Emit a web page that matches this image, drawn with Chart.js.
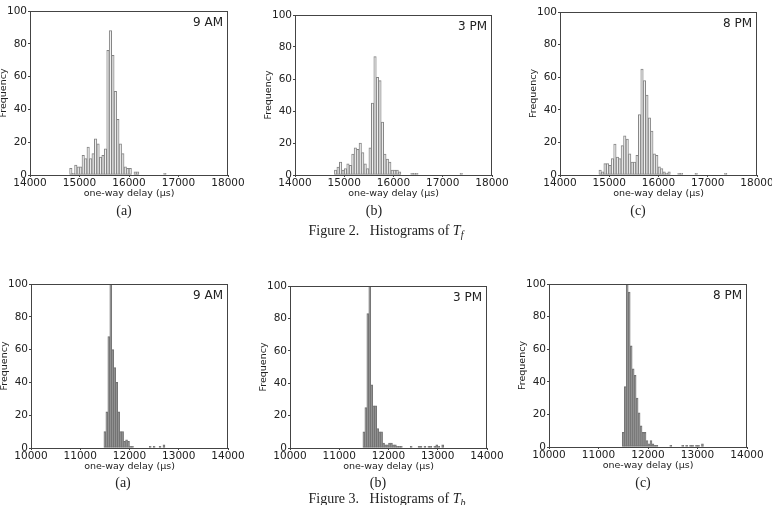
<!DOCTYPE html>
<html>
<head>
<meta charset="utf-8">
<script src="https://cdn.jsdelivr.net/npm/chart.js@4.4.1/dist/chart.umd.min.js"></script>
<style>
  html, body { margin: 0; padding: 0; background: #fff; }
  body { width: 772px; height: 505px; position: relative; overflow: hidden; }
  canvas { position: absolute; }
  .cap {
    position: absolute; transform: translate(-50%, -50%);
    font-family: "Liberation Serif", "Times New Roman", serif;
    font-size: 14px; line-height: 1; color: #222; white-space: nowrap;
  }
  .cap sub { font-size: 10px; }
</style>
</head>
<body>
<script>
const delayLabel = "one-way delay (µs)";
const freqLabel = "Frequency";
const freqTicks = [0, 20, 40, 60, 80, 100];
const fwdTicks = [14000, 15000, 16000, 17000, 18000];
const bwdTicks = [10000, 11000, 12000, 13000, 14000];
const timeLabels = ["9 AM", "3 PM", "8 PM"];
const subLabels = ["(a)", "(b)", "(c)"];
const figCaptions = ["Figure 2.&nbsp;&nbsp;&nbsp;Histograms of <i>T</i><sub><i>f</i></sub>",
                     "Figure 3.&nbsp;&nbsp;&nbsp;Histograms of <i>T</i><sub><i>b</i></sub>"];

// forward delay T_f, 50 us bins (counts per bin, first bin start)
const fwdBin = 50;
const fwd9amStart = 14800;
const fwd9am = [4, 1, 6, 5, 5, 12, 10, 17, 10, 13, 22, 19, 11, 12, 16, 76, 88, 73, 51, 34,
                19, 13, 5, 4, 4, 0, 2, 2, 0, 0, 0, 0, 0, 0, 0, 0, 0, 0, 1];
const fwd3pmStart = 14800;
const fwd3pm = [3, 5, 8, 3, 4, 7, 6, 13, 17, 16, 20, 14, 7, 4, 17, 45, 74, 61, 59, 33,
                13, 10, 8, 3, 3, 3, 2, 0, 0, 0, 0, 1, 1, 1, 0, 0, 0, 0, 0, 0,
                0, 0, 0, 0, 0, 0, 0, 0, 0, 0, 0, 1];
const fwd8pmStart = 14790;
const fwd8pm = [3, 2, 7, 7, 6, 10, 19, 11, 10, 18, 24, 22, 13, 8, 8, 12, 37, 65, 58, 49,
                35, 27, 13, 12, 5, 4, 2, 1, 2, 0, 0, 0, 1, 1, 0, 0, 0, 0, 0, 1,
                0, 0, 0, 0, 0, 0, 0, 0, 0, 0, 0, 1];

// backward delay T_b, 40 us bins
const bwdBin = 40;
const bwd9amStart = 11480;
const bwd9am = [10, 22, 68, 120, 60, 49, 40, 22, 10, 10, 4, 5, 4, 1, 1, 0, 0, 0, 0, 0,
                0, 0, 0, 1, 0, 1, 0, 0, 1, 0, 2];
const bwd3pmStart = 11480;
const bwd3pm = [10, 25, 83, 120, 39, 26, 26, 12, 10, 10, 3, 2, 2, 3, 3, 2, 2, 1, 1, 1,
                0, 0, 0, 0, 1, 0, 0, 0, 1, 1, 0, 1, 0, 1, 1, 0, 1, 2, 1, 0, 2];
const bwd8pmStart = 11480;
const bwd8pm = [9, 37, 120, 95, 62, 48, 44, 30, 21, 13, 9, 9, 4, 2, 4, 2, 1, 1, 0, 0,
                0, 0, 0, 0, 1, 0, 0, 0, 0, 0, 1, 0, 1, 0, 1, 1, 0, 1, 1, 0, 2];

const lightBars = { backgroundColor: "#f0f0f0", borderColor: "#858585", borderWidth: 1 };
const darkBars = { backgroundColor: "rgba(140,140,140,0.8)", borderColor: "#707070", borderWidth: 0.8 };

const panels = [
  { plot: [30, 11, 228, 175], ticks: fwdTicks, start: fwd9amStart, bin: fwdBin, counts: fwd9am, label: 0, bars: lightBars },
  { plot: [295, 15, 492, 175], ticks: fwdTicks, start: fwd3pmStart, bin: fwdBin, counts: fwd3pm, label: 1, bars: lightBars },
  { plot: [560, 12, 757, 175], ticks: fwdTicks, start: fwd8pmStart, bin: fwdBin, counts: fwd8pm, label: 2, bars: lightBars },
  { plot: [31, 284, 228, 448], ticks: bwdTicks, start: bwd9amStart, bin: bwdBin, counts: bwd9am, label: 0, bars: darkBars },
  { plot: [290, 286, 487, 448], ticks: bwdTicks, start: bwd3pmStart, bin: bwdBin, counts: bwd3pm, label: 1, bars: darkBars },
  { plot: [549, 284, 747, 447], ticks: bwdTicks, start: bwd8pmStart, bin: bwdBin, counts: bwd8pm, label: 2, bars: darkBars }
];

const subPos = [[124, 211], [374, 211], [638, 211], [123, 483], [378, 483], [643, 483]];
const figPos = [[386, 232], [387, 500]];

const frame = {
  id: "frame",
  afterDraw(chart, args, opts) {
    const a = chart.chartArea, ctx = chart.ctx;
    ctx.save();
    ctx.strokeStyle = "#444";
    ctx.lineWidth = 1;
    ctx.strokeRect(a.left + 0.5, a.top + 0.5, a.right - a.left - 1, a.bottom - a.top);
    ctx.fillStyle = "#222";
    ctx.font = '12px "DejaVu Sans"';
    ctx.textAlign = "right";
    ctx.textBaseline = "middle";
    ctx.fillText(opts.text, a.right - 5, a.top + 12);
    ctx.restore();
  }
};

const tickFont = { family: "DejaVu Sans", size: 10.5 };
const titleFont = { family: "DejaVu Sans", size: 9.5 };

panels.forEach(p => {
  const [l, t, r, b] = p.plot;
  const canvas = document.createElement("canvas");
  canvas.width = r - l + 60;
  canvas.height = b - t + 12 + 30;
  canvas.style.left = (l - 40) + "px";
  canvas.style.top = (t - 12) + "px";
  document.body.appendChild(canvas);

  const points = p.counts
    .map((c, i) => ({ x: p.start + (i + 0.5) * p.bin, y: c }))
    .filter(d => d.y > 0);

  new Chart(canvas.getContext("2d"), {
    type: "bar",
    data: {
      datasets: [{
        data: points,
        backgroundColor: p.bars.backgroundColor,
        borderColor: p.bars.borderColor,
        borderWidth: p.bars.borderWidth,
        borderSkipped: false,
        barPercentage: 1,
        categoryPercentage: 1,
        clip: 0
      }]
    },
    options: {
      responsive: false,
      animation: false,
      layout: { padding: { left: 0, top: 12, right: 20, bottom: 0 } },
      plugins: {
        legend: { display: false },
        tooltip: { enabled: false },
        frame: { text: timeLabels[p.label] }
      },
      scales: {
        x: {
          type: "linear",
          min: p.ticks[0],
          max: p.ticks[p.ticks.length - 1],
          offset: false,
          afterBuildTicks: s => { s.ticks = p.ticks.map(v => ({ value: v })); },
          afterFit: s => { s.height = 30; },
          ticks: { font: tickFont, color: "#222", padding: 0, maxRotation: 0, autoSkip: false, callback: v => String(v) },
          grid: { display: true, offset: false, drawOnChartArea: false, drawTicks: true, tickLength: 2, color: "#444" },
          border: { display: false },
          title: { display: true, text: delayLabel, font: titleFont, color: "#222", padding: { top: 0, bottom: 5.5 } }
        },
        y: {
          min: 0,
          max: 100,
          afterBuildTicks: s => { s.ticks = freqTicks.map(v => ({ value: v })); },
          afterFit: s => { s.width = 40; },
          ticks: { font: tickFont, color: "#222", padding: 1, callback: v => String(v) },
          grid: { display: true, drawOnChartArea: false, drawTicks: true, tickLength: 2, color: "#444" },
          border: { display: false },
          title: { display: true, text: freqLabel, font: titleFont, color: "#222", padding: { top: 7.5, bottom: 0 } }
        }
      }
    },
    plugins: [frame]
  });
});

subPos.forEach((pos, i) => {
  const d = document.createElement("div");
  d.className = "cap";
  d.style.left = pos[0] + "px";
  d.style.top = pos[1] + "px";
  d.textContent = subLabels[i % 3];
  document.body.appendChild(d);
});

figPos.forEach((pos, i) => {
  const d = document.createElement("div");
  d.className = "cap";
  d.style.left = pos[0] + "px";
  d.style.top = pos[1] + "px";
  d.innerHTML = figCaptions[i];
  document.body.appendChild(d);
});
</script>
</body>
</html>
